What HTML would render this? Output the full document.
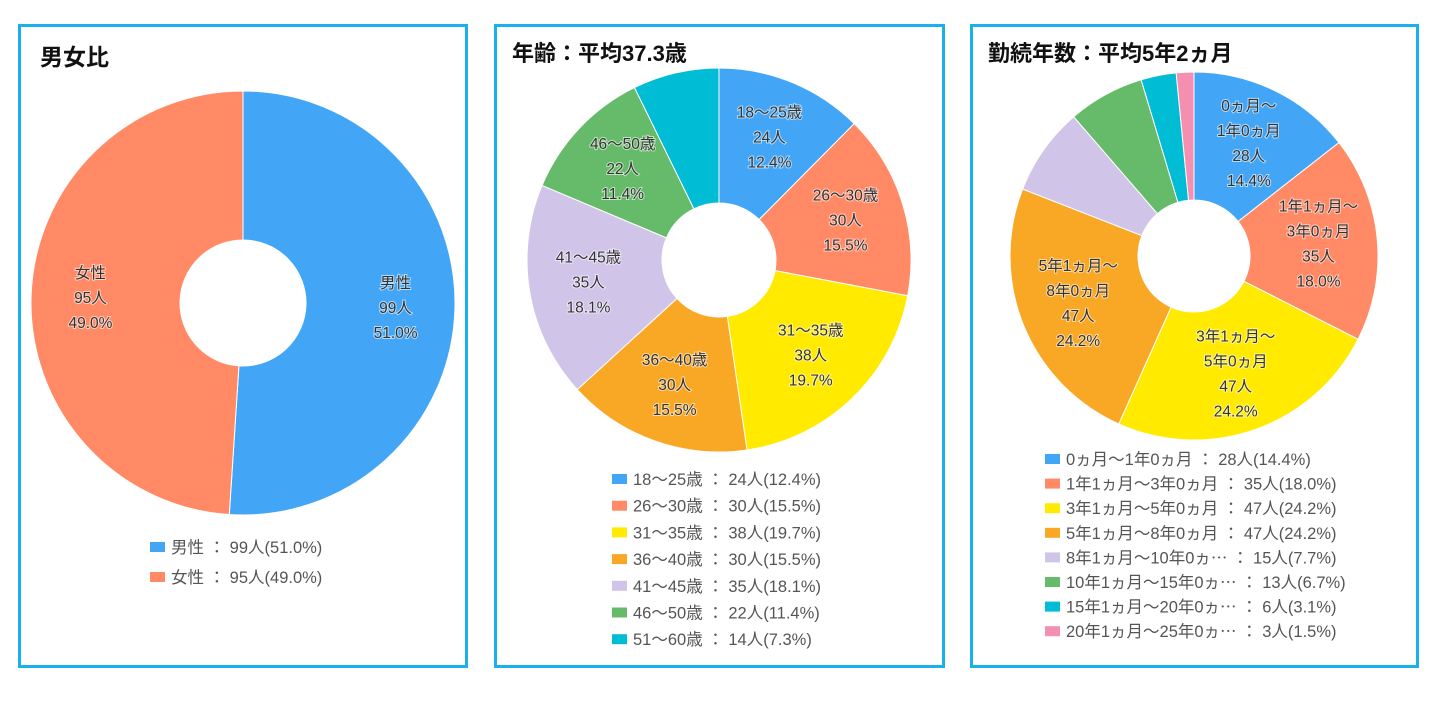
<!DOCTYPE html>
<html><head><meta charset="utf-8"><style>
body{margin:0;width:1440px;height:703px;background:#fff;overflow:hidden;font-family:"Liberation Sans","Noto Sans CJK JP",sans-serif}
.panel{position:absolute;border:3px solid #1ab0ea;box-sizing:border-box;top:24px;height:644px}
.title{position:absolute;font-weight:bold;color:#111;font-size:23px}
svg{position:absolute;left:0;top:0}
</style></head><body>
<div class="panel" style="left:18px;width:450px"></div>
<div class="panel" style="left:494px;width:451px"></div>
<div class="panel" style="left:970px;width:449px"></div>
<div class="title" style="left:40px;top:38px">男女比</div>
<div class="title" style="left:512px;top:36px;font-size:22px">年齢：平均37.3歳</div>
<div class="title" style="left:988px;top:36px;font-size:22px">勤続年数：平均5年2ヵ月</div>
<svg id="s" width="1440" height="703"></svg>
<script>
const genderLabels=[["男性","99人","51.0%"],["女性","95人","49.0%"]];
const genderValues=[99,95];
const genderLegend=["男性 ： 99人(51.0%)","女性 ： 95人(49.0%)"];
const ageLabels=[["18～25歳","24人","12.4%"],["26～30歳","30人","15.5%"],["31～35歳","38人","19.7%"],["36～40歳","30人","15.5%"],["41～45歳","35人","18.1%"],["46～50歳","22人","11.4%"],["51～60歳","14人","7.3%"]];
const ageValues=[24,30,38,30,35,22,14];
const ageLegend=["18～25歳 ： 24人(12.4%)","26～30歳 ： 30人(15.5%)","31～35歳 ： 38人(19.7%)","36～40歳 ： 30人(15.5%)","41～45歳 ： 35人(18.1%)","46～50歳 ： 22人(11.4%)","51～60歳 ： 14人(7.3%)"];
const tenureLabels=[["0ヵ月～","1年0ヵ月","28人","14.4%"],["1年1ヵ月～","3年0ヵ月","35人","18.0%"],["3年1ヵ月～","5年0ヵ月","47人","24.2%"],["5年1ヵ月～","8年0ヵ月","47人","24.2%"],["8年1ヵ月～10年0ヵ月"],["10年1ヵ月～15年0ヵ月"],["15年1ヵ月～20年0ヵ月"],["20年1ヵ月～25年0ヵ月"]];
const tenureValues=[28,35,47,47,15,13,6,3];
const tenureLegend=["0ヵ月～1年0ヵ月 ： 28人(14.4%)","1年1ヵ月～3年0ヵ月 ： 35人(18.0%)","3年1ヵ月～5年0ヵ月 ： 47人(24.2%)","5年1ヵ月～8年0ヵ月 ： 47人(24.2%)","8年1ヵ月～10年0ヵ⋯ ： 15人(7.7%)","10年1ヵ月～15年0ヵ⋯ ： 13人(6.7%)","15年1ヵ月～20年0ヵ⋯ ： 6人(3.1%)","20年1ヵ月～25年0ヵ⋯ ： 3人(1.5%)"];
const colors=["#42a5f5","#ff8a65","#ffea00","#f9a825","#d1c4e9","#66bb6a","#00bcd4","#f48fb1"];
const NS="http://www.w3.org/2000/svg";
const svg=document.getElementById('s');
function mk(t,a){const e=document.createElementNS(NS,t);for(const k in a)e.setAttribute(k,a[k]);svg.appendChild(e);return e;}
function pie(name,vals,labels,legend,cx,cy,r,h,lf,lx,ly,lsp,gColors){
  const tot=vals.reduce((a,b)=>a+b,0);let acc=0;
  vals.forEach((v,i)=>{
    const a0=acc/tot*2*Math.PI;acc+=v;const a1=acc/tot*2*Math.PI;
    const p=(a,rr)=>[cx+rr*Math.sin(a),cy-rr*Math.cos(a)];
    const [x0,y0]=p(a0,r),[x1,y1]=p(a1,r),[x2,y2]=p(a1,h),[x3,y3]=p(a0,h);
    const lg=(a1-a0)>Math.PI?1:0;
    const e=mk('path',{d:`M${x0},${y0}A${r},${r} 0 ${lg} 1 ${x1},${y1}L${x2},${y2}A${h},${h} 0 ${lg} 0 ${x3},${y3}Z`,fill:gColors[i],stroke:'#fff','stroke-width':1});
    
    
    if(v/tot>=0.1){
      const am=(a0+a1)/2;const [tx,ty]=p(am,r*lf);
      const L=labels[i];const n=L.length;
      L.forEach((s,j)=>{
        const t=mk('text',{x:tx,y:ty+(j-(n-1)/2)*25+5,'text-anchor':'middle','font-size':15.5,fill:'#333',stroke:'#fff','stroke-width':2,'paint-order':'stroke','stroke-opacity':0.6});
        t.textContent=s;
        
        
      });
    }
  });
  legend.forEach((s,i)=>{
    const y=ly+i*lsp;
    const rc=mk('rect',{x:lx,y:y-5,width:15,height:10,fill:gColors[i]});
    
    
    const t=mk('text',{x:lx+21,y:y+6,'font-size':16.5,fill:'#555'});
    t.textContent=s;
    
    
  });
}
pie('gender',genderValues,genderLabels,genderLegend,243,303,212,63,0.72,150,547,30,colors);
pie('age',ageValues,ageLabels,ageLegend,719,260,192,57,0.69,612,479,26.7,colors);
pie('tenure',tenureValues,tenureLabels,tenureLegend,1194,256,184,56,0.68,1045,459,24.6,colors);
</script>
</body></html>
